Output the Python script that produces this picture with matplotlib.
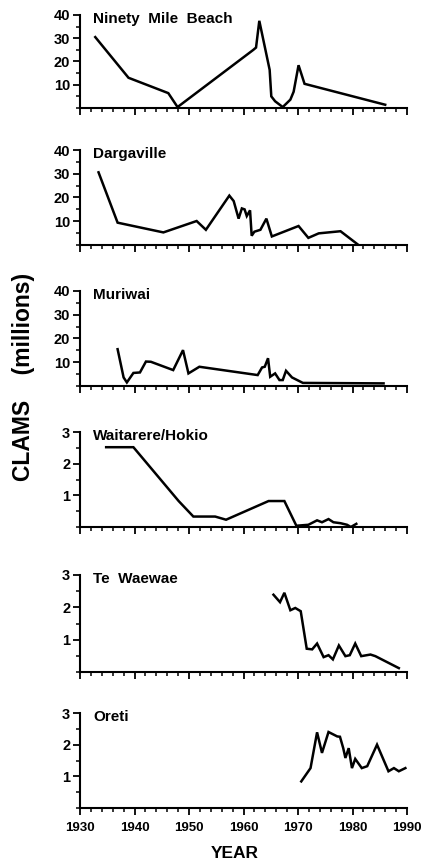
import matplotlib
matplotlib.use('Agg')
import matplotlib.pyplot as plt
from matplotlib.ticker import MultipleLocator

plt.rcParams['font.family'] = ['Liberation Sans', 'DejaVu Sans']
plt.rcParams['font.weight'] = 'bold'

# --- data (year, clams in millions) ---------------------------------
ninety_year = [1932.8, 1938.9, 1946.2, 1947.9, 1961.8, 1962.3, 1962.9, 1964.8, 1965.1,
               1965.8, 1967.2, 1968.6, 1969.2, 1970.1, 1971.2, 1986.0]
ninety_val = [30.5, 13, 6.4, 0.4, 25, 26, 37.5, 16.4, 5, 2.9, 0.4, 3.6, 7, 18.4, 10.4, 1.4]

darg_year = [1933.4, 1936.9, 1945.3, 1951.4, 1953.1, 1957.4, 1958.2, 1959.1, 1959.7, 1960.2,
             1960.6, 1961.2, 1961.5, 1962.0, 1963.1, 1964.2, 1965.2, 1970.1, 1971.9, 1973.8,
             1977.8, 1981.1]
darg_val = [30.6, 9.4, 5.3, 10.1, 6.4, 20.8, 18.5, 11.1, 15.4, 15, 12.2, 14.6, 3.9, 5.6,
            6.4, 11.1, 3.6, 8, 3, 4.9, 5.8, 0]

muri_year = [1936.9, 1938.0, 1938.6, 1939.8, 1941.0, 1942.1, 1943.0, 1947.1, 1948.9, 1949.9,
             1951.9, 1962.6, 1963.4, 1963.9, 1964.5, 1964.9, 1965.8, 1966.6, 1967.2, 1967.8,
             1968.9, 1970.9, 1985.7]
muri_val = [15.5, 3.6, 1.5, 5.5, 5.7, 10.3, 10.2, 6.7, 15.1, 5.3, 8.1, 4.6, 7.8, 8.1, 11.7,
            3.9, 5.3, 2.5, 2.5, 6.4, 3.6, 1.3, 1.1]

wait_year = [1934.8, 1939.8, 1948.1, 1950.8, 1954.8, 1956.8, 1964.6, 1967.5, 1969.7, 1971.9,
             1973.5, 1974.4, 1975.6, 1976.5, 1977.8, 1979.0, 1979.7, 1980.7]
wait_val = [2.52, 2.52, 0.82, 0.33, 0.33, 0.23, 0.82, 0.82, 0.04, 0.07, 0.21, 0.15, 0.25,
            0.15, 0.12, 0.07, 0.0, 0.1]

tewa_year = [1965.5, 1966.7, 1967.5, 1968.6, 1969.5, 1970.5, 1971.6, 1972.6, 1973.5, 1974.7,
             1975.6, 1976.4, 1977.5, 1978.7, 1979.5, 1980.5, 1981.6, 1983.3, 1984.2, 1988.5]
tewa_val = [2.39, 2.16, 2.45, 1.91, 1.98, 1.88, 0.72, 0.70, 0.88, 0.46, 0.52, 0.39, 0.82,
            0.49, 0.52, 0.88, 0.49, 0.54, 0.49, 0.12]

oret_year = [1970.6, 1972.3, 1973.5, 1974.4, 1975.6, 1977.2, 1977.7, 1978.3, 1978.7, 1979.3,
             1979.9, 1980.5, 1981.7, 1982.7, 1984.5, 1986.6, 1987.6, 1988.5, 1989.7]
oret_val = [0.84, 1.26, 2.39, 1.74, 2.40, 2.26, 2.25, 1.89, 1.58, 1.89, 1.26, 1.55, 1.26,
            1.32, 2.0, 1.16, 1.26, 1.16, 1.26]

sites = ['Ninety  Mile  Beach', 'Dargaville', 'Muriwai', 'Waitarere/Hokio', 'Te  Waewae', 'Oreti']
years = [ninety_year, darg_year, muri_year, wait_year, tewa_year, oret_year]
values = [ninety_val, darg_val, muri_val, wait_val, tewa_val, oret_val]
y_max = [40, 40, 40, 3, 3, 3]

# panel extents in pixels (top, bottom)
W, H = 422, 863
rows = [(15, 108), (150, 245), (291, 386), (432, 527), (575, 672), (713, 808)]
x0, x1 = 80, 407

fig = plt.figure(figsize=(W / 100, H / 100), dpi=100)

for i, (top, bot) in enumerate(rows):
    ax = fig.add_axes([x0 / W, (H - bot) / H, (x1 - x0) / W, (bot - top) / H])
    ax.plot(years[i], values[i], color='black', lw=1.8, solid_joinstyle='miter')
    ax.set_xlim(1930, 1990)
    ax.set_ylim(0, y_max[i])
    for s in ['top', 'right']:
        ax.spines[s].set_visible(False)
    for s in ['left', 'bottom']:
        ax.spines[s].set_linewidth(1.5)
    ax.xaxis.set_major_locator(MultipleLocator(10))
    ax.xaxis.set_minor_locator(MultipleLocator(2))
    if y_max[i] == 40:
        ax.set_yticks([10, 20, 30, 40])
        ax.yaxis.set_minor_locator(MultipleLocator(5))
    else:
        ax.set_yticks([1, 2, 3])
        ax.yaxis.set_minor_locator(MultipleLocator(0.5))
    ax.tick_params(which='major', direction='out', length=5, width=1.3, labelsize=10.5, pad=2)
    ax.tick_params(which='minor', direction='out', length=3, width=1.1)
    ax.tick_params(axis='x', labelsize=9.5, pad=5)
    if i < len(rows) - 1:
        ax.tick_params(axis='x', labelbottom=False)
    else:
        ax.set_xlabel('YEAR', fontsize=12.5, fontweight='bold')
        ax.xaxis.set_label_coords((235 - x0) / (x1 - x0), -0.40)
    ax.text(0.04, 1.03, sites[i], transform=ax.transAxes, ha='left', va='top',
            fontsize=11, fontweight='bold')

fig.text(24 / W, 1 - 377 / H, 'CLAMS    (millions)', rotation=90, ha='center', va='center',
         fontsize=16.5, fontweight='bold')

fig.savefig('out.png', dpi=100)
